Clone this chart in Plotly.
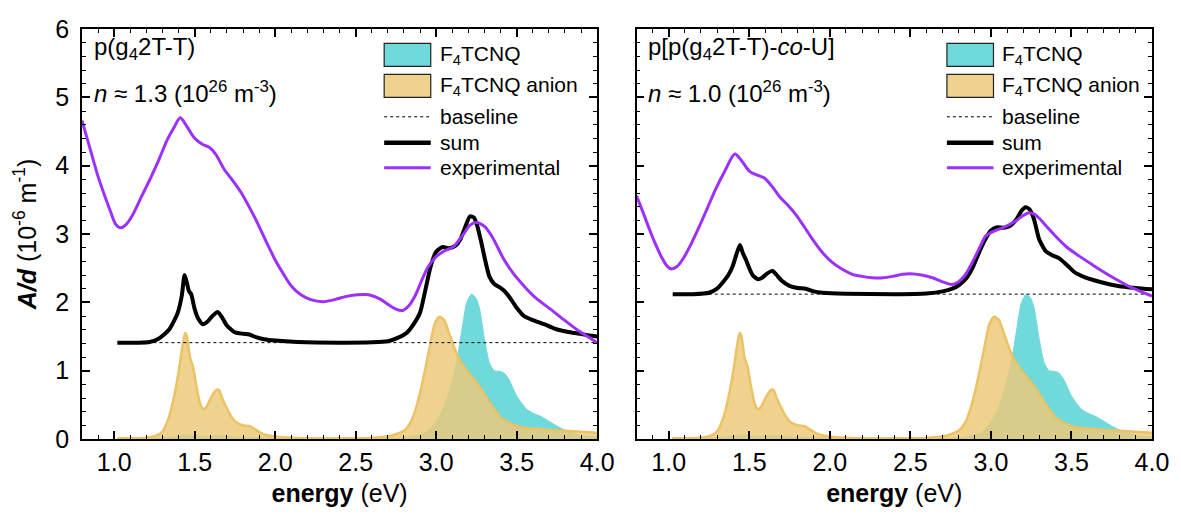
import plotly.graph_objects as go

# ---------------- data ----------------
energy_anion = [1.02, 1.1, 1.2, 1.26, 1.3, 1.34, 1.37, 1.40, 1.42, 1.44, 1.45, 1.47, 1.49, 1.51, 1.53,
                1.55, 1.57, 1.60, 1.63, 1.65, 1.67, 1.70, 1.73, 1.76, 1.80, 1.84, 1.87, 1.91, 1.96,
                2.02, 2.1, 2.2, 2.4, 2.6, 2.7, 2.75, 2.8, 2.84, 2.87, 2.9, 2.93, 2.96, 2.99, 3.02,
                3.05, 3.08, 3.11, 3.14, 3.17, 3.2, 3.24, 3.28, 3.32, 3.36, 3.40, 3.45, 3.50, 3.56,
                3.63, 3.72, 3.8, 3.9, 4.0]
anion = [0.01, 0.01, 0.02, 0.05, 0.11, 0.32, 0.6, 0.98, 1.3, 1.55, 1.52, 1.2, 1.05, 0.78, 0.55,
         0.44, 0.46, 0.6, 0.71, 0.72, 0.6, 0.45, 0.32, 0.24, 0.2, 0.19, 0.15, 0.09, 0.05,
         0.03, 0.02, 0.01, 0.01, 0.015, 0.04, 0.07, 0.12, 0.24, 0.42, 0.68, 1.0, 1.35, 1.68, 1.79,
         1.74, 1.55, 1.35, 1.18, 1.07, 0.97, 0.86, 0.73, 0.58, 0.44, 0.32, 0.24, 0.19, 0.16,
         0.15, 0.13, 0.12, 0.105, 0.09]

energy_neutral = [1.02, 1.3, 1.4, 1.45, 1.5, 1.6, 1.65, 1.75, 1.9, 2.1, 2.6, 2.8, 2.9, 2.95, 3.0,
                  3.05, 3.1, 3.13, 3.16, 3.19, 3.22, 3.25, 3.27, 3.30, 3.33, 3.36, 3.39, 3.42, 3.45,
                  3.50, 3.56, 3.60, 3.65, 3.70, 3.75, 3.79, 3.85, 3.9, 4.0]
neutral = [0.01, 0.02, 0.04, 0.06, 0.04, 0.04, 0.05, 0.03, 0.02, 0.01, 0.01, 0.02, 0.06, 0.12, 0.25,
           0.48, 0.85, 1.17, 1.6, 2.0, 2.12, 2.05, 1.9, 1.46, 1.12, 1.0, 0.99, 0.97, 0.88,
           0.63, 0.44, 0.38, 0.33, 0.26, 0.19, 0.14, 0.08, 0.05, 0.03]

# panel 1: p(g42T-T)
exp1_x = [0.8, 0.85, 0.9, 0.95, 0.98, 1.01, 1.04, 1.07, 1.11, 1.17, 1.23, 1.28, 1.33, 1.37, 1.41,
          1.45, 1.50, 1.55, 1.59, 1.63, 1.685, 1.74, 1.79, 1.84, 1.89, 1.95, 2.0, 2.05, 2.1, 2.16,
          2.22, 2.30, 2.37, 2.43, 2.51, 2.58, 2.65, 2.7, 2.75, 2.79, 2.83, 2.87, 2.91, 2.95, 3.0,
          3.05, 3.11, 3.17, 3.21, 3.25, 3.30, 3.35, 3.42, 3.48, 3.545, 3.62, 3.71, 3.79, 3.875,
          3.94, 4.0]
exp1_y = [4.66, 4.25, 3.84, 3.5, 3.31, 3.14, 3.09, 3.13, 3.26, 3.55, 3.84, 4.1, 4.38, 4.55, 4.70,
          4.58, 4.40, 4.31, 4.27, 4.17, 3.94, 3.77, 3.60, 3.39, 3.16, 2.86, 2.62, 2.42, 2.24, 2.11,
          2.04, 2.01, 2.04, 2.08, 2.11, 2.11, 2.05, 1.97, 1.90, 1.88, 1.95, 2.1, 2.32, 2.52, 2.67,
          2.75, 2.82, 3.0, 3.13, 3.17, 3.11, 2.95, 2.63, 2.42, 2.24, 2.06, 1.90, 1.75, 1.60,
          1.50, 1.41]
sum1_x = [1.02, 1.15, 1.22, 1.27, 1.31, 1.344, 1.37, 1.395, 1.42, 1.437, 1.45, 1.465, 1.478, 1.5,
          1.52, 1.55, 1.58, 1.61, 1.643, 1.67, 1.70, 1.75, 1.80, 1.84, 1.88, 1.93, 2.0, 2.14, 2.4,
          2.6, 2.7, 2.76, 2.82, 2.86, 2.90, 2.93, 2.966, 3.0, 3.04, 3.08, 3.12, 3.15, 3.18, 3.21,
          3.235, 3.255, 3.28, 3.30, 3.33, 3.36, 3.40, 3.43, 3.46, 3.50, 3.545, 3.6, 3.67, 3.73,
          3.79, 3.86, 3.94, 4.0]
sum1_y = [1.41, 1.41, 1.42, 1.46, 1.53, 1.61, 1.72, 1.85, 2.1, 2.40, 2.3, 2.16, 2.12, 1.9,
          1.77, 1.68, 1.72, 1.8, 1.86, 1.78, 1.66, 1.56, 1.54, 1.53, 1.49, 1.46, 1.44, 1.42, 1.41,
          1.415, 1.43, 1.48, 1.56, 1.68, 1.85, 2.15, 2.53, 2.74, 2.81, 2.79, 2.83, 2.92, 3.1, 3.26,
          3.24, 3.12, 2.88, 2.66, 2.38, 2.27, 2.21, 2.15, 2.06, 1.92, 1.80, 1.74, 1.68, 1.62,
          1.58, 1.55, 1.52, 1.50]
base1_x = [1.02, 4.0]
base1_y = [1.41, 1.41]

# panel 2: p[p(g42T-T)-co-U]
exp2_x = [0.8, 0.84, 0.88, 0.92, 0.96, 0.99, 1.015, 1.05, 1.087, 1.14, 1.19, 1.24, 1.29, 1.35, 1.41,
          1.45, 1.50, 1.55, 1.594, 1.64, 1.687, 1.74, 1.79, 1.84, 1.893, 1.95, 2.017, 2.08, 2.14,
          2.2, 2.265, 2.33, 2.39, 2.45, 2.50, 2.57, 2.637, 2.70, 2.76, 2.80, 2.84, 2.87, 2.905,
          2.94, 2.967, 3.0, 3.05, 3.1, 3.153, 3.2, 3.236, 3.27, 3.30, 3.35, 3.40, 3.47, 3.546,
          3.63, 3.71, 3.79, 3.877, 3.95, 4.0]
exp2_y = [3.56, 3.32, 3.07, 2.84, 2.64, 2.53, 2.49, 2.52, 2.63, 2.86, 3.11, 3.38, 3.65, 3.93, 4.17,
          4.08, 3.92, 3.86, 3.82, 3.70, 3.55, 3.42, 3.28, 3.11, 2.92, 2.74, 2.58, 2.48, 2.41,
          2.38, 2.36, 2.36, 2.38, 2.41, 2.42, 2.40, 2.36, 2.30, 2.26, 2.30, 2.40, 2.52, 2.68,
          2.85, 2.97, 3.02, 3.07, 3.12, 3.19, 3.27, 3.31, 3.29, 3.23, 3.10, 2.97, 2.81, 2.68,
          2.55, 2.43, 2.32, 2.21, 2.14, 2.09]
sum2_x = [1.025, 1.15, 1.25, 1.30, 1.335, 1.37, 1.397, 1.42, 1.442, 1.46, 1.48, 1.50, 1.52, 1.552,
          1.58, 1.61, 1.645, 1.67, 1.70, 1.75, 1.80, 1.85, 1.90, 1.955, 2.1, 2.4, 2.6, 2.70, 2.76,
          2.80, 2.85, 2.885, 2.93, 2.967, 3.0, 3.04, 3.08, 3.12, 3.16, 3.19, 3.215, 3.24, 3.267,
          3.285, 3.30, 3.34, 3.38, 3.42, 3.47, 3.525, 3.58, 3.63, 3.71, 3.79, 3.9, 4.0]
sum2_y = [2.12, 2.12, 2.14, 2.2, 2.29, 2.40, 2.53, 2.7, 2.84, 2.72, 2.62, 2.50, 2.40, 2.34,
          2.36, 2.42, 2.46, 2.40, 2.32, 2.24, 2.21, 2.20, 2.16, 2.14, 2.125, 2.12, 2.13, 2.16, 2.20,
          2.25, 2.36, 2.50, 2.75, 2.93, 3.05, 3.10, 3.09, 3.12, 3.22, 3.34, 3.39, 3.36, 3.22,
          3.05, 2.92, 2.75, 2.69, 2.65, 2.55, 2.43, 2.37, 2.33, 2.28, 2.24, 2.21, 2.19]
base2_x = [1.025, 4.0]
base2_y = [2.12, 2.12]

panel_titles = ["p(g<sub>4</sub>2T-T)", "p[p(g<sub>4</sub>2T-T)-<i>co</i>-U]"]
panel_density = ["<i>n</i> ≈ 1.3 (10<sup>26</sup> m<sup>-3</sup>)",
                 "<i>n</i> ≈ 1.0 (10<sup>26</sup> m<sup>-3</sup>)"]
legend_labels = ["F<sub>4</sub>TCNQ", "F<sub>4</sub>TCNQ anion", "baseline", "sum", "experimental"]

# ---------------- styling ----------------
FONT = "Liberation Sans, Arial, Helvetica, sans-serif"
CYAN = "rgb(111,217,220)"
TAN_FILL = "rgba(235,201,120,0.84)"
TAN_LINE = "rgb(235,194,102)"
PURPLE = "rgb(155,48,255)"

fig = go.Figure()

panels = [
    ("x", "y", exp1_x, exp1_y, sum1_x, sum1_y, base1_x, base1_y),
    ("x2", "y2", exp2_x, exp2_y, sum2_x, sum2_y, base2_x, base2_y),
]
for xa, ya, ex, ey, sx, sy, bx, by in panels:
    fig.add_trace(go.Scatter(x=energy_neutral, y=neutral, xaxis=xa, yaxis=ya, mode="lines",
                             line=dict(color=CYAN, width=1, shape="spline", smoothing=0.6),
                             fill="tozeroy", fillcolor=CYAN, showlegend=False, hoverinfo="skip"))
    fig.add_trace(go.Scatter(x=energy_anion, y=anion, xaxis=xa, yaxis=ya, mode="lines",
                             line=dict(color=TAN_LINE, width=2.5, shape="spline", smoothing=0.6),
                             fill="tozeroy", fillcolor=TAN_FILL, showlegend=False, hoverinfo="skip"))
    fig.add_trace(go.Scatter(x=bx, y=by, xaxis=xa, yaxis=ya, mode="lines",
                             line=dict(color="black", width=1, dash="dot"), showlegend=False))
    fig.add_trace(go.Scatter(x=sx, y=sy, xaxis=xa, yaxis=ya, mode="lines",
                             line=dict(color="black", width=4, shape="spline", smoothing=0.6),
                             showlegend=False))
    fig.add_trace(go.Scatter(x=ex, y=ey, xaxis=xa, yaxis=ya, mode="lines",
                             line=dict(color=PURPLE, width=3, shape="spline", smoothing=0.8),
                             showlegend=False))

W, H = 1181, 515
ML, MR, MT, MB = 82, 19, 29, 75
PW, PH = W - ML - MR, H - MT - MB


def px(xpix):
    return (xpix - ML) / PW


def py(ypix):
    return (H - MB - ypix) / PH


TICK_SIZE = 25
common_x = dict(range=[0.8, 4.0], dtick=0.5, tick0=0, tickformat=".1f", showline=True,
                linecolor="black", linewidth=1.5, mirror="ticks", ticks="inside", ticklen=8,
                tickwidth=1.5, tickcolor="black", showgrid=False, zeroline=False,
                minor=dict(dtick=0.1, ticks="inside", ticklen=4, tickwidth=1.2, tickcolor="black"),
                tickfont=dict(size=TICK_SIZE, family=FONT, color="black"),
                title=dict(text="<b>energy</b> (eV)", font=dict(size=25, family=FONT, color="black"),
                           standoff=10))
common_y = dict(range=[0, 6], dtick=1, showline=True, linecolor="black", linewidth=1.5,
                mirror="ticks", ticks="inside", ticklen=8, tickwidth=1.5, tickcolor="black",
                showgrid=False, zeroline=False, ticklabelstandoff=6,
                minor=dict(dtick=0.2, ticks="inside", ticklen=4, tickwidth=1.2, tickcolor="black"),
                tickfont=dict(size=TICK_SIZE, family=FONT, color="black"))

dom1 = [0, px(602)]
dom2 = [px(641.7), 1]

fig.update_layout(
    width=W, height=H, margin=dict(l=ML, r=MR, t=MT, b=MB),
    paper_bgcolor="white", plot_bgcolor="white", showlegend=False,
    font=dict(family=FONT, size=20, color="black"),
    xaxis=dict(domain=dom1, anchor="y", **common_x),
    xaxis2=dict(domain=dom2, anchor="y2", **common_x),
    yaxis=dict(domain=[0, 1], anchor="x",
               title=dict(text="<b><i>A/d</i></b> (10<sup>-6</sup> m<sup>-1</sup>)",
                          font=dict(size=25, family=FONT, color="black"), standoff=12),
               **common_y),
    yaxis2=dict(domain=[0, 1], anchor="x2", showticklabels=False, **common_y),
)

annotations = []
shapes = []
for i, left in enumerate([82, 641.7]):
    annotations.append(dict(text=panel_titles[i], xref="paper", yref="paper", x=px(left + 10),
                            y=py(49), xanchor="left", yanchor="middle", showarrow=False,
                            font=dict(size=24, family=FONT, color="black")))
    annotations.append(dict(text=panel_density[i], xref="paper", yref="paper", x=px(left + 10),
                            y=py(92), xanchor="left", yanchor="middle", showarrow=False,
                            font=dict(size=24, family=FONT, color="black")))
    # legend
    bx0 = [387, 955][i]
    bx1 = bx0 + 47
    tx = bx0 + 54
    rows = [55, 86, 117, 143, 168]
    shapes.append(dict(type="rect", xref="paper", yref="paper", x0=px(bx0), x1=px(bx1),
                       y0=py(66.5), y1=py(43.5), fillcolor=CYAN, line=dict(color="#222", width=1.2)))
    shapes.append(dict(type="rect", xref="paper", yref="paper", x0=px(bx0), x1=px(bx1),
                       y0=py(97.5), y1=py(74.5), fillcolor="rgb(238,210,142)",
                       line=dict(color="#222", width=1.2)))
    shapes.append(dict(type="line", xref="paper", yref="paper", x0=px(bx0), x1=px(bx1),
                       y0=py(rows[2]), y1=py(rows[2]), line=dict(color="black", width=1, dash="dot")))
    shapes.append(dict(type="line", xref="paper", yref="paper", x0=px(bx0), x1=px(bx1),
                       y0=py(rows[3]), y1=py(rows[3]), line=dict(color="black", width=4.5)))
    shapes.append(dict(type="line", xref="paper", yref="paper", x0=px(bx0), x1=px(bx1),
                       y0=py(rows[4]), y1=py(rows[4]), line=dict(color=PURPLE, width=3)))
    for lab, ry in zip(legend_labels, rows):
        annotations.append(dict(text=lab, xref="paper", yref="paper", x=px(tx), y=py(ry),
                                xanchor="left", yanchor="middle", showarrow=False,
                                font=dict(size=21, family=FONT, color="black")))

fig.update_layout(annotations=annotations, shapes=shapes)
fig.write_html("out.html")
